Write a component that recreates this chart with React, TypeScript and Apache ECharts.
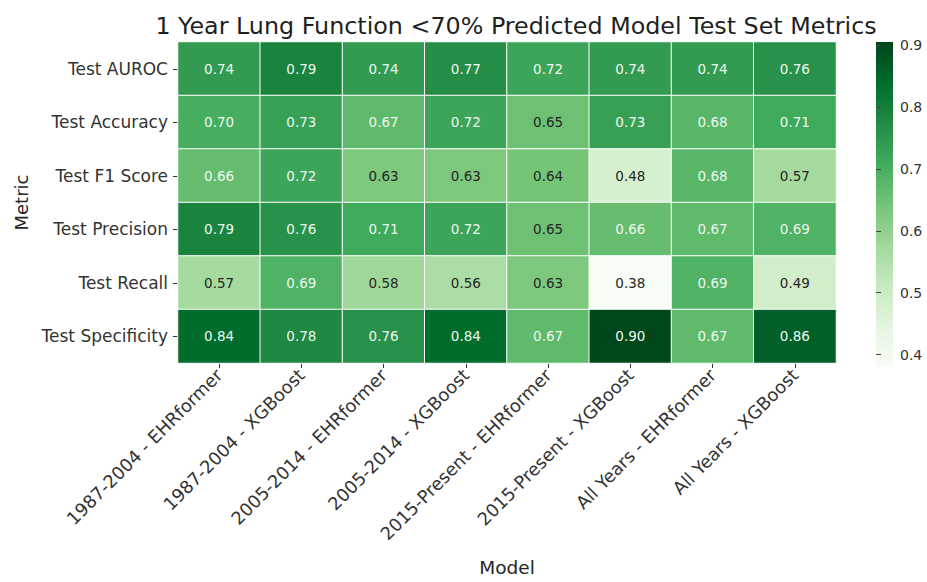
import React, { useEffect, useRef } from "react";
import * as echarts from "echarts";

const models = [
  "1987-2004 - EHRformer",
  "1987-2004 - XGBoost",
  "2005-2014 - EHRformer",
  "2005-2014 - XGBoost",
  "2015-Present - EHRformer",
  "2015-Present - XGBoost",
  "All Years - EHRformer",
  "All Years - XGBoost",
];
const metrics = [
  "Test AUROC",
  "Test Accuracy",
  "Test F1 Score",
  "Test Precision",
  "Test Recall",
  "Test Specificity",
];
const aurocValues = [0.74, 0.79, 0.74, 0.77, 0.72, 0.74, 0.74, 0.76];
const accuracyValues = [0.70, 0.73, 0.67, 0.72, 0.65, 0.73, 0.68, 0.71];
const f1Values = [0.66, 0.72, 0.63, 0.63, 0.64, 0.48, 0.68, 0.57];
const precisionValues = [0.79, 0.76, 0.71, 0.72, 0.65, 0.66, 0.67, 0.69];
const recallValues = [0.57, 0.69, 0.58, 0.56, 0.63, 0.38, 0.69, 0.49];
const specificityValues = [0.84, 0.78, 0.76, 0.84, 0.67, 0.90, 0.67, 0.86];
const colorbarTicks = [0.4, 0.5, 0.6, 0.7, 0.8, 0.9];

const rows = [aurocValues, accuracyValues, f1Values, precisionValues, recallValues, specificityValues];
const vMin = 0.38;
const vMax = 0.905;
const greens = ["#f7fcf5", "#e5f5e0", "#c7e9c0", "#a1d99b", "#74c476", "#41ab5d", "#238b45", "#006d2c", "#00441b"];
const FONT = "DejaVu Sans";

export default function App() {
  const ref = useRef<HTMLDivElement>(null);
  useEffect(() => {
    if (!ref.current) return;
    const chart = echarts.init(ref.current, null, { renderer: "svg" });
    const data: any[] = [];
    rows.forEach((row, r) => {
      row.forEach((v, c) => {
        data.push({
          value: [c, r, v],
          label: { color: v >= 0.655 ? "#eef7ee" : "#262626" },
        });
      });
    });
    const gridTop = 42;
    const gridBottom = 215;
    const barLeft = 876;
    const barWidth = 17;
    const barHeight = 582 - gridTop - gridBottom;
    const option: any = {
      animation: false,
      backgroundColor: "#ffffff",
      title: {
        text: "1 Year Lung Function <70% Predicted Model Test Set Metrics",
        left: 511,
        textAlign: "center",
        top: 9,
        textStyle: { fontFamily: FONT, fontSize: 23.8, fontWeight: "normal", color: "#1f1f1f" },
      },
      grid: [
        { left: 178, right: 91, top: gridTop, bottom: gridBottom },
        { left: barLeft, width: barWidth, top: gridTop, bottom: gridBottom },
      ],
      xAxis: [
        {
          type: "category",
          gridIndex: 0,
          data: models,
          name: "Model",
          nameLocation: "middle",
          nameGap: 195,
          nameTextStyle: { fontFamily: FONT, fontSize: 18.5, color: "#262626" },
          axisLine: { show: false },
          axisTick: { show: true, alignWithLabel: true, length: 5, lineStyle: { color: "#333" } },
          axisLabel: { rotate: 45, fontFamily: FONT, fontSize: 17.8, color: "#333333", margin: 9, interval: 0 },
          splitLine: { show: false },
        },
        {
          type: "value",
          gridIndex: 1,
          show: false,
        },
      ],
      yAxis: [
        {
          type: "category",
          gridIndex: 0,
          data: metrics,
          inverse: true,
          name: "Metric",
          nameLocation: "middle",
          nameGap: 145,
          nameRotate: 90,
          nameTextStyle: { fontFamily: FONT, fontSize: 18, color: "#262626" },
          axisLine: { show: false },
          axisTick: { show: true, alignWithLabel: true, length: 5, lineStyle: { color: "#333" } },
          axisLabel: { fontFamily: FONT, fontSize: 17, color: "#333333", margin: 10 },
          splitLine: { show: false },
        },
        {
          type: "value",
          gridIndex: 1,
          position: "right",
          min: vMin,
          max: vMax,
          axisLine: { show: false },
          splitLine: { show: false },
          axisTick: { show: true, length: 5, customValues: colorbarTicks, lineStyle: { color: "#444" } },
          axisLabel: {
            fontFamily: FONT,
            fontSize: 14,
            color: "#333",
            margin: 7,
            customValues: colorbarTicks,
            formatter: (v: number) => v.toFixed(1),
          },
        },
      ],
      visualMap: {
        type: "continuous",
        show: false,
        min: vMin,
        max: vMax,
        seriesIndex: 0,
        inRange: { color: greens },
      },
      graphic: [
        {
          type: "rect",
          left: barLeft,
          top: gridTop,
          shape: { width: barWidth, height: barHeight },
          style: {
            fill: new echarts.graphic.LinearGradient(
              0,
              0,
              0,
              1,
              greens
                .slice()
                .reverse()
                .map((c, i) => ({ offset: i / (greens.length - 1), color: c }))
            ),
          },
          z: -1,
        },
      ],
      series: [
        {
          type: "heatmap",
          xAxisIndex: 0,
          yAxisIndex: 0,
          data,
          itemStyle: { borderColor: "#ffffff", borderWidth: 1 },
          label: {
            show: true,
            fontFamily: FONT,
            fontSize: 13.5,
            formatter: (p: any) => p.value[2].toFixed(2),
          },
          emphasis: { disabled: true },
        },
      ],
    };
    chart.setOption(option);
    return () => chart.dispose();
  }, []);
  return (
    <div
      ref={ref}
      style={{ position: "absolute", left: 0, top: 0, width: 927, height: 582 }}
    />
  );
}
